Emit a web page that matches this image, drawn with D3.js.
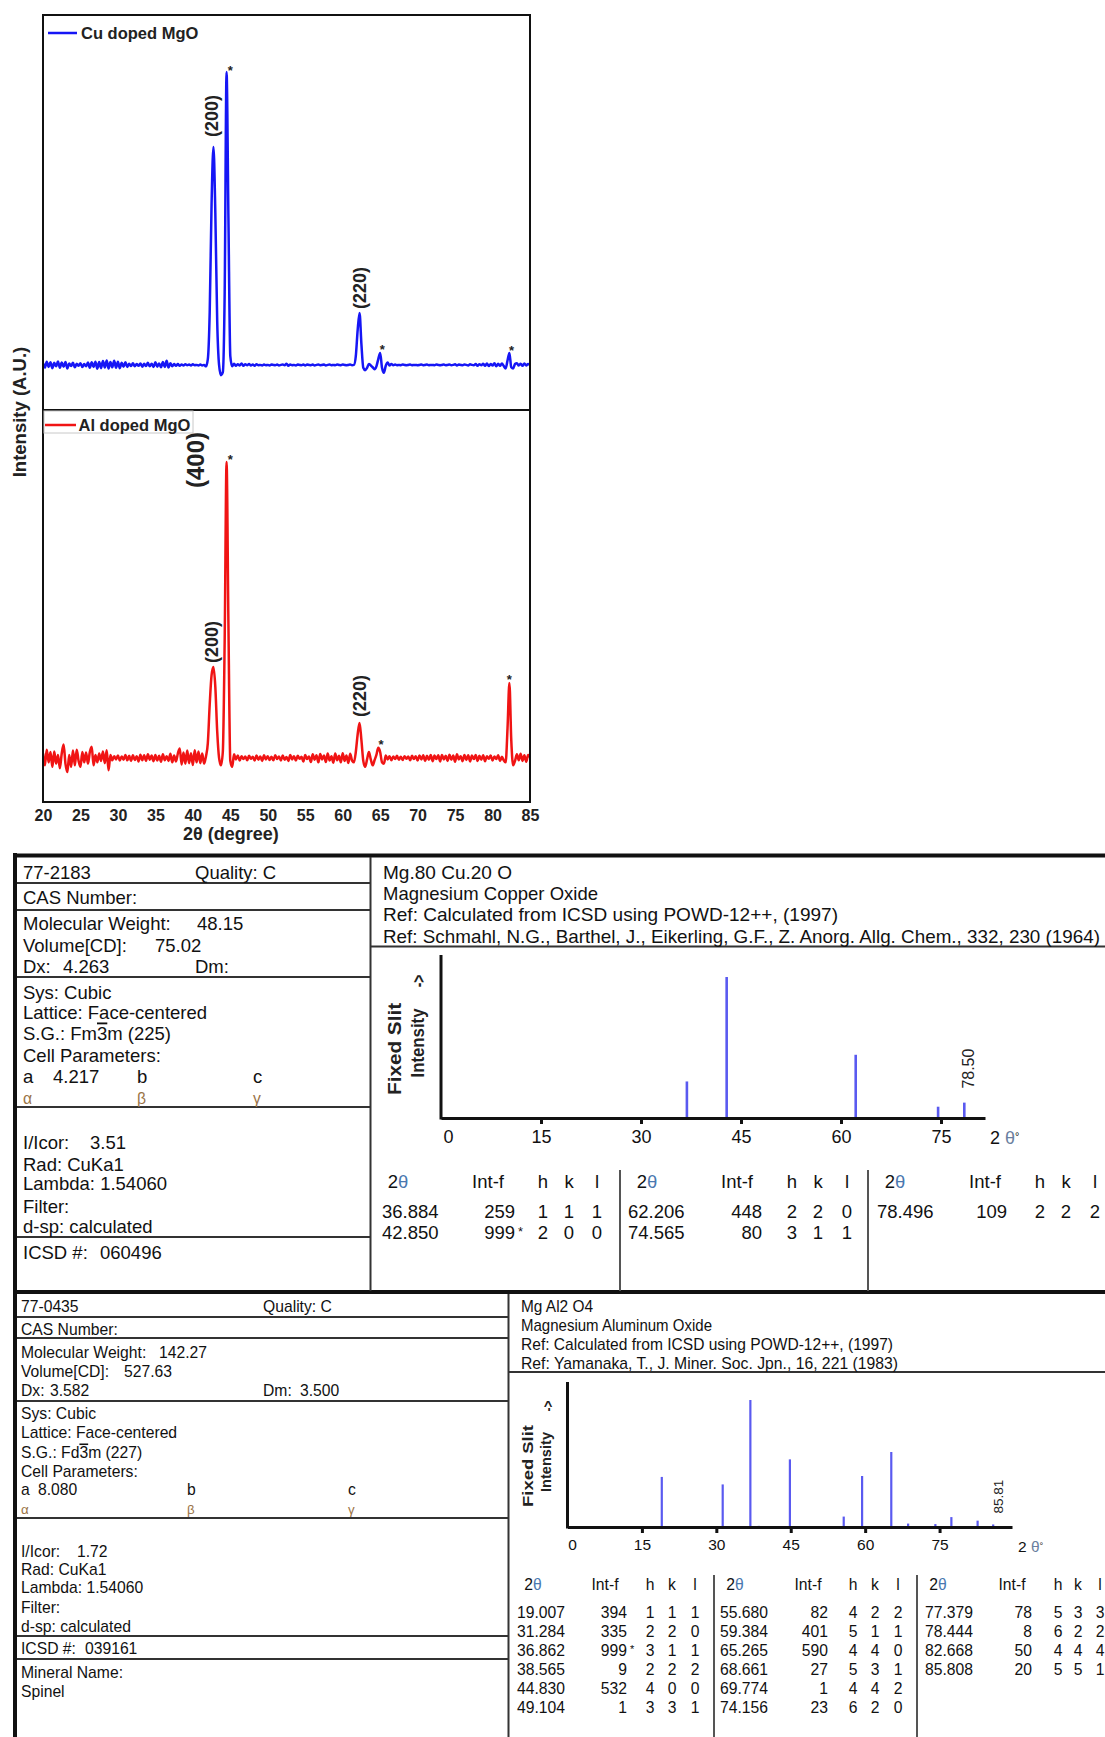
<!DOCTYPE html>
<html><head><meta charset="utf-8">
<script src="https://cdn.jsdelivr.net/npm/d3@7"></script>
<style>body{margin:0;background:#fff}svg{display:block}</style>
</head><body>
<svg id="c" width="1105" height="1737"></svg>
<script>
// ================= DATA =================
// XRD patterns, sampled every 0.25 deg from 20 to 85 deg (2theta)
const thetaStart = 20, thetaStep = 0.25;
const cuIntensity = [
 0.6,-0.9,1.1,-0.7,  0.9,-1.1,0.7,-0.5,  1.2,-1.0,0.8,-0.6,  1.0,-1.2,0.5,-0.4,
 0.7,-0.8,0.4,-0.3,  0.6,-0.7,0.3,-0.5,  0.8,-1.0,0.9,-0.7,  1.1,-1.3,1.0,-1.1,
 1.3,-0.9,1.5,-1.2,  1.0,-0.8,1.4,-1.0,  1.1,-1.1,0.7,-0.6,  0.9,-0.7,0.4,-0.4,
 0.6,-0.5,0.3,-0.3,  0.5,-0.6,0.4,-0.4,  0.7,-0.5,0.4,-0.7,  0.9,-0.6,0.5,-0.8,
 1.0,-0.7,1.4,-0.9,  0.6,-0.5,0.3,-0.3,  0.3,-0.3,0.1,-0.2,  0.2,-0.1,0.1,-0.2,
 0.2,-0.1,0.0,-0.2,  0.1,-0.2,0.0,-0.5,  2,18,55,74.4,       52,15,0,-3.5,
 -2.5,25,100,50,     3,-0.5,0.4,-0.3,    0.2,-0.2,0.5,-0.3,  0.2,-0.1,0.3,-0.2,
 0.1,-0.3,0.2,-0.1,  0.0,-0.2,0.1,-0.1,  0.0,-0.2,0.1,0.0,   -0.1,0.1,-0.2,0.0,
 0.1,-0.1,0.4,-0.3,  0.1,-0.1,0.0,-0.2,  0.1,0.0,-0.1,0.1,   -0.2,0.1,0.0,-0.1,
 0.1,-0.2,0.0,0.1,   -0.1,0.0,0.1,-0.2,  0.0,0.1,-0.1,0.0,   -0.1,0.1,0.0,-0.1,
 0.1,0.0,-0.1,0.0,   0.1,-0.1,0.0,3,     12,17.7,7,-1.0,     -1.8,-1.0,0.3,-0.2,
 -0.8,-1.5,-0.5,2,   4.1,-1.0,-2.7,-0.3, 0.8,-0.2,0.3,-0.1,  0.1,-0.1,0.0,-0.1,
 0.1,0.0,-0.1,0.0,   0.1,-0.1,0.0,0.0,   -0.1,0.0,0.1,-0.1,  0.0,0.1,-0.1,0.0,
 0.0,-0.1,0.1,0.0,   -0.1,0.0,0.1,-0.1,  0.0,0.1,-0.1,0.0,   0.2,-0.2,0.1,0.0,
 -0.1,0.1,0.0,-0.2,  0.2,0.0,-0.1,0.3,   -0.3,0.2,-0.1,0.4,  -0.3,0.5,-0.4,0.3,
 -0.2,0.6,-0.5,0.4,  -0.3,0.5,-0.4,-1.2, 1.5,4.1,-0.8,-1.2,  0.3,0.6,-0.2,0.4,
 -0.3,0.5,-0.2,0.3,  0.0
];
const alIntensity = [
 1.5,-2.5,2.8,-1.5,  2.0,-3.0,2.2,-2.0,  1.0,-3.5,1.5,4.5,   -2.0,-4.8,1.0,-3.0,
 2.5,-2.5,2.8,-1.0,  -3.0,2.0,-1.5,1.8,  -2.0,2.0,3.8,-2.5,  1.0,-1.5,1.5,-1.0,
 2.2,-1.8,2.6,-4.2,  1.0,-0.8,0.6,-0.5,  0.8,-0.9,0.5,-0.6,  1.0,-0.8,0.7,-1.0,
 0.9,-0.7,0.6,-1.2,  1.1,-0.8,0.9,-1.0,  1.2,-0.6,0.8,-1.1,  1.0,-0.9,0.7,-1.3,
 1.2,-0.8,0.6,-1.0,  1.4,-1.5,0.8,-1.2,  1.5,3.2,-2.2,1.8,   -2.0,2.5,-1.8,1.6,
 -2.4,2.6,-1.5,2.2,  -1.8,1.5,-2.0,0.5,  5,18,28,30.7,       24,9,0,-2.5,
 2,40,100,45,        -1,-3.0,1.2,-0.5,   0.8,-0.9,0.6,-0.4,  0.5,-0.8,0.7,-0.3,
 0.4,-0.9,0.8,-0.6,  0.5,-1.0,0.9,-0.5,  0.6,-0.7,0.4,-0.8,  0.9,-0.4,0.5,-0.9,
 0.8,-0.6,0.3,-1.0,  1.0,-0.5,0.6,-0.9,  0.7,-0.3,0.4,-1.2,  1.0,-0.4,0.5,-1.4,
 1.2,-0.6,0.9,-1.5,  1.3,-0.5,0.8,-1.4,  1.5,-0.9,0.6,-1.6,  1.5,-0.8,0.7,-1.5,
 1.6,-1.0,0.8,-1.7,  1.4,-0.9,-1.5,2,    8,11.8,6,-1.0,      -3.0,-0.5,2.0,-0.5,
 -2.5,-0.8,1.0,3.4,  2.0,-1.5,-2.0,0.8,  -0.5,0.6,-0.8,0.5,  -0.4,0.7,-0.6,0.4,
 -0.7,0.6,-0.3,0.5,  -0.8,0.7,-0.4,0.6,  -0.9,0.8,-0.5,0.9,  -1.0,0.7,-0.6,1.0,
 -1.1,0.8,-0.4,0.9,  -1.2,1.0,-0.5,0.7,  -1.0,1.1,-0.6,0.8,  -1.3,1.2,-0.5,0.6,
 -1.1,1.0,-0.7,0.9,  -1.2,0.8,-0.4,1.0,  -1.0,0.7,-0.6,0.9,  -1.1,0.6,-0.3,0.8,
 -0.9,0.5,-0.4,0.9,  -1.0,0.4,-0.8,-1.5, 10,25.3,6,-2.5,     -1.0,1.2,-0.8,1.4,
 -1.0,0.9,-1.3,1.0,  0.3
];
const xrdTicks = [20,25,30,35,40,45,50,55,60,65,70,75,80,85];
const cuLabelText = ["(200)","(220)"];
const cuLabelTheta = [42.5, 62.23];
const cuLabelI = [85, 26.3];
const cuStarTheta = [44.98, 65.27, 82.52];
const cuStarI = [101.4, 6.1, 5.8];
const alLabelText = ["(400)","(200)","(220)"];
const alLabelTheta = [40.42, 42.5, 62.23];
const alLabelI = [100.7, 39.2, 20.9];
const alStarTheta = [44.98, 65.13, 82.24];
const alStarI = [101.7, 5.4, 27.4];

// PDF card 77-2183 (Mg.80 Cu.20 O)
const card1Theta = [36.884, 42.850, 62.206, 74.565, 78.496];
const card1Int = [259, 999, 448, 80, 109];
const card1H = [1,2,2,3,2], card1K = [1,0,2,1,2], card1L = [1,0,0,1,2];
// PDF card 77-0435 (Mg Al2 O4)
const card2Theta = [19.007,31.284,36.862,38.565,44.830,49.104,55.680,59.384,65.265,68.661,69.774,74.156,77.379,78.444,82.668,85.808];
const card2Int = [394,335,999,9,532,1,82,401,590,27,1,23,78,8,50,20];
const card2H = [1,2,3,2,4,3,4,5,4,5,4,6,5,6,4,5];
const card2K = [1,2,1,2,0,3,2,1,4,3,4,2,3,2,4,5];
const card2L = [1,0,1,2,0,1,2,1,0,1,2,0,3,2,4,1];
const stickTicks = [0,15,30,45,60,75];

// ================= DRAW =================
const svg = d3.select("#c");
const SANS = "'Liberation Sans', Arial, sans-serif";
const thetaGrid = cuIntensity.map((_, i) => thetaStart + i * thetaStep);

// ---- XRD chart ----
const x = d3.scaleLinear().domain([20, 85]).range([43, 530]);
const yCu = d3.scaleLinear().domain([-15.4, 119.5]).range([410, 15]);
const yAl = d3.scaleLinear().domain([-14.9, 117.6]).range([802, 410]);

const defs = svg.append("defs");
defs.append("clipPath").attr("id","clipCu").append("rect").attr("x",43).attr("y",15).attr("width",487).attr("height",395);
defs.append("clipPath").attr("id","clipAl").append("rect").attr("x",43).attr("y",410).attr("width",487).attr("height",392);

function spectrum(vals, ys, color, clip) {
  const ln = d3.line().x((d, i) => x(thetaGrid[i])).y(d => ys(d)).curve(d3.curveMonotoneX);
  svg.append("path").datum(vals).attr("d", ln).attr("fill","none")
    .attr("stroke", color).attr("stroke-width", 2.5).attr("stroke-linejoin","round")
    .attr("clip-path", `url(#${clip})`);
}
spectrum(cuIntensity, yCu, "#1616f5", "clipCu");
spectrum(alIntensity, yAl, "#f01414", "clipAl");

// frame
svg.append("rect").attr("x",43).attr("y",15).attr("width",487).attr("height",787)
  .attr("fill","none").attr("stroke","#111").attr("stroke-width",2);
svg.append("line").attr("x1",43).attr("x2",530).attr("y1",yCu.range()[0]).attr("y2",yCu.range()[0])
  .attr("stroke","#111").attr("stroke-width",2);

// x axis
const xAx = svg.append("g").attr("transform","translate(0,802)")
  .call(d3.axisBottom(x).tickValues(xrdTicks).tickSize(0).tickPadding(8));
xAx.select(".domain").remove();
xAx.selectAll("text").attr("font-family",SANS).attr("font-size",16).attr("font-weight","bold").attr("fill","#222");
svg.append("text").attr("x",231).attr("y",834).attr("dy","0.35em").attr("text-anchor","middle")
  .attr("font-family",SANS).attr("font-size",18).attr("font-weight","bold").attr("fill","#222").text("2θ (degree)");
svg.append("text").attr("transform","translate(20,412) rotate(-90)").attr("dy","0.35em").attr("text-anchor","middle")
  .attr("font-family",SANS).attr("font-size",18.5).attr("font-weight","bold").attr("fill","#222").text("Intensity (A.U.)");

// legends
svg.append("line").attr("x1",48).attr("x2",77).attr("y1",33).attr("y2",33).attr("stroke","#1616f5").attr("stroke-width",2.5);
svg.append("text").attr("x",81).attr("y",33).attr("dy","0.35em").attr("font-family",SANS).attr("font-size",16.5)
  .attr("font-weight","bold").attr("fill","#222").text("Cu doped MgO");
svg.append("rect").attr("x",44).attr("y",411).attr("width",149).attr("height",22).attr("fill","none").attr("stroke","#c8c8c8").attr("stroke-width",1);
svg.append("line").attr("x1",45).attr("x2",76).attr("y1",425).attr("y2",425).attr("stroke","#f01414").attr("stroke-width",2.5);
svg.append("text").attr("x",78.5).attr("y",425).attr("dy","0.35em").attr("font-family",SANS).attr("font-size",16.5)
  .attr("font-weight","bold").attr("fill","#222").text("Al doped MgO");

// peak annotations
function peakLabels(texts, thetas, ints, ys, sizes) {
  texts.forEach((s, i) => {
    svg.append("text").attr("transform",`translate(${x(thetas[i])},${ys(ints[i])}) rotate(-90)`)
      .attr("dy","0.35em").attr("text-anchor","middle").attr("font-family",SANS)
      .attr("font-size", sizes[i]).attr("font-weight","bold").attr("fill","#222").text(s);
  });
}
function stars(thetas, ints, ys) {
  thetas.forEach((t, i) => {
    svg.append("text").attr("x", x(t)).attr("y", ys(ints[i]) + 7).attr("text-anchor","middle")
      .attr("font-family",SANS).attr("font-size",13).attr("font-weight","bold").attr("fill","#222").text("*");
  });
}
peakLabels(cuLabelText, cuLabelTheta, cuLabelI, yCu, [18,18]);
peakLabels(alLabelText, alLabelTheta, alLabelI, yAl, [24,18,18]);
stars(cuStarTheta, cuStarI, yCu);
stars(alStarTheta, alStarI, yAl);

// ---- PDF cards ----
function txt(x0, y0, s, size, opts = {}) {
  return svg.append("text").attr("x", x0).attr("y", y0).attr("dy","0.35em")
    .attr("font-family", SANS).attr("font-size", size)
    .attr("text-anchor", opts.anchor || "start").attr("fill", opts.fill || "#111")
    .attr("font-weight", opts.weight || "normal").text(s);
}
function hline(x1, x2, y0, w, c) {
  svg.append("line").attr("x1",x1).attr("x2",x2).attr("y1",y0).attr("y2",y0).attr("stroke",c||"#222").attr("stroke-width",w);
}
function vline(x0, y1, y2, w, c) {
  svg.append("line").attr("x1",x0).attr("x2",x0).attr("y1",y1).attr("y2",y2).attr("stroke",c||"#222").attr("stroke-width",w);
}

function infoColumn(rows, size, x0) {
  rows.forEach(r => {
    const y0 = r[0];
    r[1].forEach(seg => {
      const xx = seg[1] === undefined ? x0 : seg[1];
      if (seg[2] === "greek") {
        txt(xx, y0, seg[0], size * 0.85, {fill: "#9a7346"});
      } else if (seg[2] === "sg") {
        const t = txt(xx, y0, "", size);
        t.append("tspan").text(seg[0][0]);
        t.append("tspan").style("text-decoration","overline").text(seg[0][1]);
        t.append("tspan").text(seg[0][2]);
      } else {
        txt(xx, y0, seg[0], size);
      }
    });
  });
}

function stickChart(cfg) {
  const xs = d3.scaleLinear().domain([0, cfg.xmax]).range([cfg.x0, cfg.x1]);
  const ys = d3.scaleLinear().domain([0, cfg.ymax]).range([cfg.yb, cfg.yt]);
  svg.append("g").selectAll("line").data(cfg.theta).join("line")
    .attr("x1", d => xs(d)).attr("x2", d => xs(d))
    .attr("y1", ys(0)).attr("y2", (d, i) => ys(cfg.ints[i]))
    .attr("stroke", "#5a5af0").attr("stroke-width", cfg.sw);
  const ax = svg.append("g").attr("transform", `translate(0,${cfg.yb})`)
    .call(d3.axisBottom(xs).tickValues(stickTicks).tickSize(6).tickSizeOuter(0).tickPadding(cfg.pad));
  ax.select(".domain").attr("stroke","#111").attr("stroke-width",3);
  ax.selectAll(".tick line").attr("stroke","#111").attr("stroke-width",3)
    .filter(d => d === 0).remove();
  ax.selectAll(".tick text").attr("font-family",SANS).attr("font-size",cfg.fs).attr("fill","#111")
    .attr("dx", d => d === 0 ? cfg.zeroDx : 0);
  vline(xs(0), cfg.yt, cfg.yb + 1.5, 3, "#111");
  // last peak label
  const last = cfg.theta.length - 1;
  svg.append("text").attr("transform", `translate(${xs(cfg.theta[last]) + cfg.lblDx},${ys(cfg.ints[last]) - cfg.lblGap}) rotate(-90)`)
    .attr("dy","0.35em").attr("font-family",SANS).attr("font-size",cfg.fs - 2).attr("fill","#222")
    .text(d3.format(".2f")(cfg.theta[last]));
  // 2theta unit label
  const u = txt(cfg.unitX, cfg.yb + cfg.unitDy, "2 ", cfg.fs);
  u.append("tspan").attr("fill","#6b7fa0").text("θ");
  u.append("tspan").attr("font-size", cfg.fs * 0.6).attr("dy","-0.4em").text("°");
  // y title
  const yl = (s, cx, cy, len) => svg.append("text").attr("transform", `translate(${cx},${cy}) rotate(-90)`)
    .attr("dy","0.35em").attr("text-anchor","middle").attr("font-family",SANS).attr("font-size",cfg.fs)
    .attr("font-weight","bold").attr("fill","#222").attr("textLength", len).attr("lengthAdjust","spacingAndGlyphs").text(s);
  yl("Fixed  Slit", cfg.fsx, cfg.fsy, cfg.fsLen);
  yl("Intensity", cfg.inx, cfg.iny, cfg.inLen);
  yl("->", cfg.arx, cfg.ary, cfg.fs * 0.7);
}

function table(cfg) {
  const f3 = d3.format(".3f");
  cfg.groups.forEach((g, gi) => {
    const hdr = txt(g.th, cfg.hy, "2", cfg.fs, {anchor:"middle"});
    hdr.append("tspan").attr("fill","#4a78b0").text("θ");
    txt(g.inf, cfg.hy, "Int-f", cfg.fs, {anchor:"middle"});
    txt(g.h, cfg.hy, "h", cfg.fs, {anchor:"middle"});
    txt(g.k, cfg.hy, "k", cfg.fs, {anchor:"middle"});
    txt(g.l, cfg.hy, "l", cfg.fs, {anchor:"middle"});
    const idx = d3.range(g.from, g.to);
    idx.forEach((r, j) => {
      const yy = cfg.ry + j * cfg.step;
      txt(g.t, yy, f3(cfg.theta[r]), cfg.fs);
      txt(g.ir, yy, String(cfg.ints[r]), cfg.fs, {anchor:"end"});
      if (cfg.ints[r] === 999) txt(g.ir + 3, yy - 2, "*", cfg.fs * 0.7);
      txt(g.h, yy, String(cfg.H[r]), cfg.fs, {anchor:"middle"});
      txt(g.k, yy, String(cfg.K[r]), cfg.fs, {anchor:"middle"});
      txt(g.l, yy, String(cfg.L[r]), cfg.fs, {anchor:"middle"});
    });
  });
}

// ===== Card 1 =====
hline(13, 1105, 855.5, 4, "#111");
vline(15, 853, 1737, 4, "#111");
hline(13, 1105, 1292, 4, "#111");
vline(370.5, 857, 1291, 2, "#333");
[883, 910, 977, 1107, 1237].forEach(yy => hline(17, 370, yy, 2, "#333"));
hline(370, 1105, 946.5, 2, "#333");
vline(620, 1170, 1291, 2, "#555");
vline(868, 1170, 1291, 2, "#555");

const F1 = 18.5;
infoColumn([
  [873, [["77-2183"],["Quality: C",195]]],
  [898, [["CAS Number:"]]],
  [924, [["Molecular Weight:"],["48.15",197]]],
  [946, [["Volume[CD]:"],["75.02",155]]],
  [967, [["Dx:"],["4.263",63],["Dm:",195]]],
  [993, [["Sys: Cubic"]]],
  [1013, [["Lattice: Face-centered"]]],
  [1034, [[["S.G.: Fm","3","m (225)"],undefined,"sg"]]],
  [1056, [["Cell Parameters:"]]],
  [1077, [["a"],["4.217",53],["b",137],["c",253]]],
  [1098, [["α",undefined,"greek"],["β",137,"greek"],["γ",253,"greek"]]],
  [1143, [["I/Icor:"],["3.51",90]]],
  [1165, [["Rad: CuKa1"]]],
  [1184, [["Lambda: 1.54060"]]],
  [1207, [["Filter:"]]],
  [1227, [["d-sp: calculated"]]],
  [1253, [["ICSD #:"],["060496",100]]]
], F1, 23);

txt(383, 873, "Mg.80 Cu.20 O", F1).attr("textLength",129).attr("lengthAdjust","spacingAndGlyphs");
txt(383, 894, "Magnesium Copper Oxide", F1).attr("textLength",215).attr("lengthAdjust","spacingAndGlyphs");
txt(383, 915, "Ref:  Calculated from ICSD using POWD-12++, (1997)", F1).attr("textLength",455).attr("lengthAdjust","spacingAndGlyphs");
txt(383, 937, "Ref: Schmahl, N.G., Barthel, J., Eikerling, G.F., Z. Anorg. Allg. Chem., 332, 230 (1964)", F1)
  .attr("textLength",717).attr("lengthAdjust","spacingAndGlyphs");

stickChart({theta: card1Theta, ints: card1Int, xmax: 81.6, x0: 441, x1: 985, ymax: 1155, yb: 1118, yt: 955,
  sw: 2.6, fs: 18, pad: 6, zeroDx: 7, lblDx: 4, lblGap: 14, unitX: 990, unitDy: 20,
  fsx: 395, fsy: 1049, fsLen: 92, inx: 418, iny: 1043, inLen: 69, arx: 419, ary: 981});

table({theta: card1Theta, ints: card1Int, H: card1H, K: card1K, L: card1L, fs: 18.5, hy: 1182, ry: 1212, step: 21,
  groups: [
    {from:0, to:2, t:382, ir:515, h:543, k:569, l:597, th:398, inf:488},
    {from:2, to:4, t:628, ir:762, h:792, k:818, l:847, th:647, inf:737},
    {from:4, to:5, t:877, ir:1007, h:1040, k:1066, l:1095, th:895, inf:985}
  ]});

// ===== Card 2 =====
vline(508.5, 1294, 1737, 2, "#333");
[1317, 1338, 1401, 1518, 1636, 1659].forEach(yy => hline(17, 508, yy, 2, "#333"));
hline(508, 1105, 1372, 2, "#333");
vline(714, 1575, 1737, 2, "#555");
vline(917, 1575, 1737, 2, "#555");

const F2 = 15.7;
infoColumn([
  [1307, [["77-0435"],["Quality: C",263]]],
  [1330, [["CAS Number:"]]],
  [1353, [["Molecular Weight:"],["142.27",159]]],
  [1372, [["Volume[CD]:"],["527.63",124]]],
  [1391, [["Dx:"],["3.582",50],["Dm:",263],["3.500",300]]],
  [1414, [["Sys: Cubic"]]],
  [1433, [["Lattice: Face-centered"]]],
  [1453, [[["S.G.: Fd","3","m (227)"],undefined,"sg"]]],
  [1472, [["Cell Parameters:"]]],
  [1490, [["a"],["8.080",38],["b",187],["c",348]]],
  [1509, [["α",undefined,"greek"],["β",187,"greek"],["γ",348,"greek"]]],
  [1552, [["I/Icor:"],["1.72",77]]],
  [1570, [["Rad: CuKa1"]]],
  [1588, [["Lambda: 1.54060"]]],
  [1608, [["Filter:"]]],
  [1627, [["d-sp: calculated"]]],
  [1649, [["ICSD #:"],["039161",85]]],
  [1673, [["Mineral Name:"]]],
  [1692, [["Spinel"]]]
], F2, 21);

txt(521, 1307, "Mg Al2 O4", F2).attr("textLength",72).attr("lengthAdjust","spacingAndGlyphs");
txt(521, 1326, "Magnesium Aluminum Oxide", F2).attr("textLength",191).attr("lengthAdjust","spacingAndGlyphs");
txt(521, 1345, "Ref:  Calculated from ICSD using POWD-12++, (1997)", F2).attr("textLength",372).attr("lengthAdjust","spacingAndGlyphs");
txt(521, 1364, "Ref: Yamanaka, T., J. Miner. Soc. Jpn., 16, 221 (1983)", F2).attr("textLength",377).attr("lengthAdjust","spacingAndGlyphs");

stickChart({theta: card2Theta, ints: card2Int, xmax: 89.6, x0: 567.5, x1: 1012, ymax: 1140.6, yb: 1527, yt: 1382,
  sw: 2.2, fs: 15.5, pad: 6, zeroDx: 4.5, lblDx: 5, lblGap: 11, unitX: 1018, unitDy: 20,
  fsx: 528, fsy: 1466, fsLen: 82, inx: 546, iny: 1462, inLen: 60, arx: 548, ary: 1406});

table({theta: card2Theta, ints: card2Int, H: card2H, K: card2K, L: card2L, fs: 15.7, hy: 1585, ry: 1613, step: 19,
  groups: [
    {from:0, to:6, t:517, ir:627, h:650, k:672, l:695, th:533, inf:605},
    {from:6, to:12, t:720, ir:828, h:853, k:875, l:898, th:735, inf:808},
    {from:12, to:16, t:925, ir:1032, h:1058, k:1078, l:1100, th:938, inf:1012}
  ]});
</script>
</body></html>
